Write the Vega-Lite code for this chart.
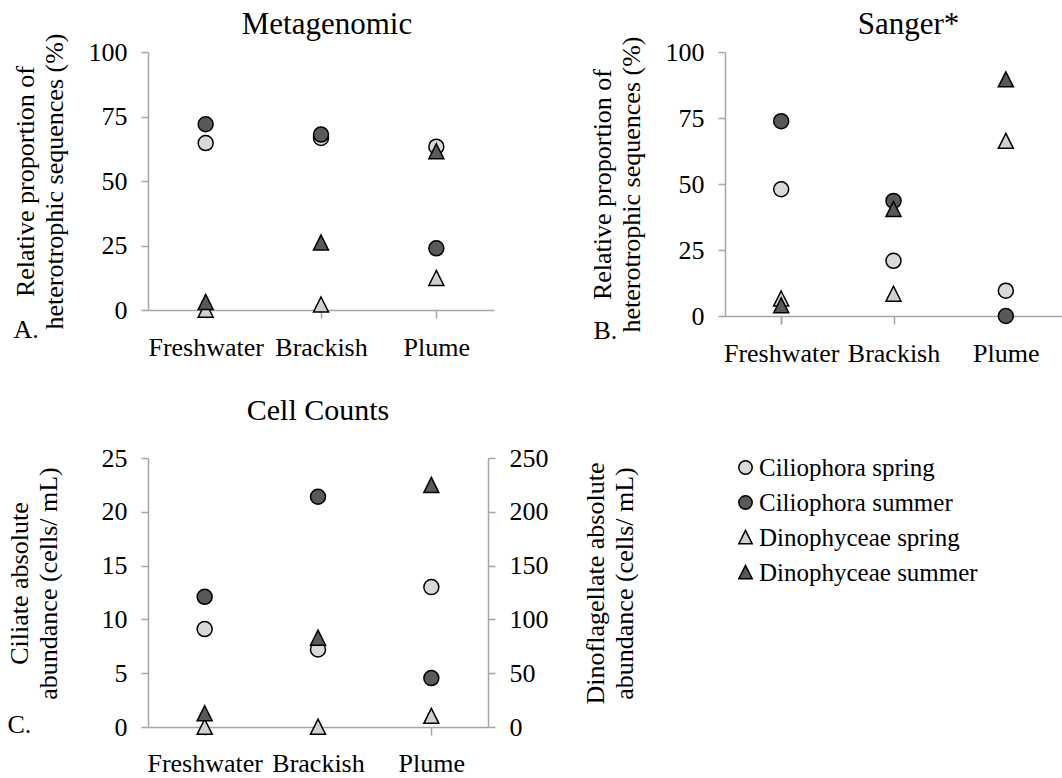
{
  "$schema": "https://vega.github.io/schema/vega-lite/v6.json",
  "background": "white",
  "padding": {"left": 6, "top": 9, "right": 0, "bottom": 0},
  "datasets": {
    "metagenomic": [
      {"site": "Freshwater", "group": "Ciliophora spring", "value": 64.7},
      {"site": "Freshwater", "group": "Ciliophora summer", "value": 72},
      {"site": "Freshwater", "group": "Dinophyceae spring", "value": 0},
      {"site": "Freshwater", "group": "Dinophyceae summer", "value": 3},
      {"site": "Brackish", "group": "Ciliophora spring", "value": 66.7},
      {"site": "Brackish", "group": "Ciliophora summer", "value": 68},
      {"site": "Brackish", "group": "Dinophyceae spring", "value": 2},
      {"site": "Brackish", "group": "Dinophyceae summer", "value": 26},
      {"site": "Plume", "group": "Ciliophora spring", "value": 63.3},
      {"site": "Plume", "group": "Ciliophora summer", "value": 23.9},
      {"site": "Plume", "group": "Dinophyceae spring", "value": 12.3},
      {"site": "Plume", "group": "Dinophyceae summer", "value": 61.4}
    ],
    "sanger": [
      {"site": "Freshwater", "group": "Ciliophora spring", "value": 48},
      {"site": "Freshwater", "group": "Ciliophora summer", "value": 73.8},
      {"site": "Freshwater", "group": "Dinophyceae spring", "value": 6.5},
      {"site": "Freshwater", "group": "Dinophyceae summer", "value": 3.9},
      {"site": "Brackish", "group": "Ciliophora spring", "value": 20.9},
      {"site": "Brackish", "group": "Ciliophora summer", "value": 43.6},
      {"site": "Brackish", "group": "Dinophyceae spring", "value": 8.3},
      {"site": "Brackish", "group": "Dinophyceae summer", "value": 40.4},
      {"site": "Plume", "group": "Ciliophora spring", "value": 9.6},
      {"site": "Plume", "group": "Ciliophora summer", "value": 0},
      {"site": "Plume", "group": "Dinophyceae spring", "value": 66.2},
      {"site": "Plume", "group": "Dinophyceae summer", "value": 89.5}
    ],
    "ciliates": [
      {"site": "Freshwater", "group": "Ciliophora spring", "value": 9.1},
      {"site": "Freshwater", "group": "Ciliophora summer", "value": 12.1},
      {"site": "Brackish", "group": "Ciliophora spring", "value": 7.2},
      {"site": "Brackish", "group": "Ciliophora summer", "value": 21.4},
      {"site": "Plume", "group": "Ciliophora spring", "value": 13},
      {"site": "Plume", "group": "Ciliophora summer", "value": 4.55}
    ],
    "dinoflagellates": [
      {"site": "Freshwater", "group": "Dinophyceae spring", "value": 0},
      {"site": "Freshwater", "group": "Dinophyceae summer", "value": 12.4},
      {"site": "Brackish", "group": "Dinophyceae spring", "value": 0},
      {"site": "Brackish", "group": "Dinophyceae summer", "value": 82.7},
      {"site": "Plume", "group": "Dinophyceae spring", "value": 10},
      {"site": "Plume", "group": "Dinophyceae summer", "value": 224.6}
    ]
  },
  "bounds": "flush",
  "columns": 2,
  "spacing": {"row": 142, "column": 231},
  "concat": [
    {
      "title": {"text": "Metagenomic", "offset": -8, "fontSize": 31, "dx": 6},
      "width": 346,
      "height": 258,
      "data": {"name": "metagenomic"},
      "mark": {"type": "point", "filled": true, "size": 225, "stroke": "black", "strokeWidth": 1.5, "opacity": 1},
      "encoding": {
        "x": {"field": "site", "type": "nominal", "sort": ["Freshwater", "Brackish", "Plume"],
              "scale": {"paddingInner": 0, "paddingOuter": 0},
              "axis": {"title": "A.", "titleX": -135, "titleY": 27}},
        "y": {"field": "value", "type": "quantitative", "scale": {"domain": [0, 100], "nice": false},
              "axis": {"values": [0, 25, 50, 75, 100], "title": ["Relative proportion of", "heterotrophic sequences (%)"], "titlePadding": 21}},
        "fill": {"field": "group", "type": "nominal",
                 "scale": {"domain": ["Ciliophora spring", "Ciliophora summer", "Dinophyceae spring", "Dinophyceae summer"],
                           "range": ["#d9d9d9", "#595959", "#d0d0d0", "#595959"]}, "legend": null},
        "shape": {"field": "group", "type": "nominal",
                  "scale": {"domain": ["Ciliophora spring", "Ciliophora summer", "Dinophyceae spring", "Dinophyceae summer"],
                            "range": ["circle", "circle", "M0,-1.05L1,0.95L-1,0.95Z", "M0,-1.05L1,0.95L-1,0.95Z"]}, "legend": null}
      }
    },
    {
      "title": {"text": "Sanger*", "offset": -5, "fontSize": 31, "dx": 15},
      "width": 337,
      "height": 264,
      "data": {"name": "sanger"},
      "mark": {"type": "point", "filled": true, "size": 225, "stroke": "black", "strokeWidth": 1.5, "opacity": 1},
      "encoding": {
        "x": {"field": "site", "type": "nominal", "sort": ["Freshwater", "Brackish", "Plume"],
              "scale": {"paddingInner": 0, "paddingOuter": 0},
              "axis": {"title": "B.", "titleX": -132, "titleY": 22}},
        "y": {"field": "value", "type": "quantitative", "scale": {"domain": [0, 100], "nice": false},
              "axis": {"values": [0, 25, 50, 75, 100], "title": ["Relative proportion of", "heterotrophic sequences (%)"], "titlePadding": 21}},
        "fill": {"field": "group", "type": "nominal",
                 "scale": {"domain": ["Ciliophora spring", "Ciliophora summer", "Dinophyceae spring", "Dinophyceae summer"],
                           "range": ["#d9d9d9", "#595959", "#d0d0d0", "#595959"]}, "legend": null},
        "shape": {"field": "group", "type": "nominal",
                  "scale": {"domain": ["Ciliophora spring", "Ciliophora summer", "Dinophyceae spring", "Dinophyceae summer"],
                            "range": ["circle", "circle", "M0,-1.05L1,0.95L-1,0.95Z", "M0,-1.05L1,0.95L-1,0.95Z"]}, "legend": null}
      }
    },
    {
      "title": {"text": "Cell Counts", "offset": 19},
      "width": 340,
      "height": 269,
      "layer": [
        {
          "data": {"name": "ciliates"},
          "mark": {"type": "point", "filled": true, "size": 225, "stroke": "black", "strokeWidth": 1.5, "opacity": 1},
          "encoding": {
            "x": {"field": "site", "type": "nominal", "sort": ["Freshwater", "Brackish", "Plume"],
                  "scale": {"domain": ["Freshwater", "Brackish", "Plume"], "paddingInner": 0, "paddingOuter": 0},
                  "axis": {"title": "C.", "titleX": -141, "titleY": 5, "labelPadding": 15}},
            "y": {"field": "value", "type": "quantitative", "scale": {"domain": [0, 25], "nice": false},
                  "axis": {"values": [0, 5, 10, 15, 20, 25], "title": ["Ciliate absolute", "abundance (cells/ mL)"], "titleY": 125, "titleAlign": "center", "titlePadding": 40}},
            "fill": {"field": "group", "type": "nominal",
                     "scale": {"domain": ["Ciliophora spring", "Ciliophora summer", "Dinophyceae spring", "Dinophyceae summer"],
                               "range": ["#d9d9d9", "#595959", "#d0d0d0", "#595959"]},
                     "legend": {"orient": "none", "legendX": 585, "legendY": -3}},
            "shape": {"field": "group", "type": "nominal",
                      "scale": {"domain": ["Ciliophora spring", "Ciliophora summer", "Dinophyceae spring", "Dinophyceae summer"],
                                "range": ["circle", "circle", "M0,-1.05L1,0.95L-1,0.95Z", "M0,-1.05L1,0.95L-1,0.95Z"]},
                      "legend": {"orient": "none", "legendX": 585, "legendY": -3}}
          }
        },
        {
          "data": {"name": "dinoflagellates"},
          "mark": {"type": "point", "filled": true, "size": 225, "stroke": "black", "strokeWidth": 1.5, "opacity": 1},
          "encoding": {
            "x": {"field": "site", "type": "nominal", "sort": ["Freshwater", "Brackish", "Plume"],
                  "scale": {"domain": ["Freshwater", "Brackish", "Plume"], "paddingInner": 0, "paddingOuter": 0},
                  "axis": {"title": "C.", "titleX": -141, "titleY": 5, "labelPadding": 15}},
            "y": {"field": "value", "type": "quantitative", "scale": {"domain": [0, 250], "nice": false},
                  "axis": {"orient": "right", "values": [0, 50, 100, 150, 200, 250], "title": ["Dinoflagellate absolute", "abundance (cells/ mL)"], "titleAngle": -90, "titleY": 125, "titleAlign": "center", "titlePadding": 31}},
            "fill": {"field": "group", "type": "nominal",
                     "scale": {"domain": ["Ciliophora spring", "Ciliophora summer", "Dinophyceae spring", "Dinophyceae summer"],
                               "range": ["#d9d9d9", "#595959", "#d0d0d0", "#595959"]},
                     "legend": {"orient": "none", "legendX": 585, "legendY": -3}},
            "shape": {"field": "group", "type": "nominal",
                      "scale": {"domain": ["Ciliophora spring", "Ciliophora summer", "Dinophyceae spring", "Dinophyceae summer"],
                                "range": ["circle", "circle", "M0,-1.05L1,0.95L-1,0.95Z", "M0,-1.05L1,0.95L-1,0.95Z"]},
                      "legend": {"orient": "none", "legendX": 585, "legendY": -3}}
          }
        }
      ],
      "resolve": {"scale": {"y": "independent"}}
    }
  ],
  "resolve": {"scale": {"fill": "independent", "shape": "independent"}},
  "config": {
    "view": {"stroke": null},
    "font": "Liberation Serif",
    "style": {"guide-label": {"font": "Liberation Serif"}, "guide-title": {"font": "Liberation Serif"}},
    "axis": {
      "labelFont": "Liberation Serif", "labelFontSize": 26, "labelColor": "black",
      "titleFont": "Liberation Serif", "titleFontSize": 26, "titleFontWeight": "normal", "titleColor": "black",
      "titleLineHeight": 29,
      "domainColor": "#a6a6a6", "domainWidth": 1.5, "tickColor": "#a6a6a6", "tickWidth": 1.5, "tickSize": 7,
      "grid": false
    },
    "axisX": {"labelAngle": 0, "labelPadding": 16, "tickBand": "extent", "tickSize": 8,
              "titleAngle": 0, "titleAlign": "left", "titleBaseline": "alphabetic", "titleAnchor": "start"},
    "axisY": {"labelPadding": 14, "titlePadding": 21},
    "title": {"font": "Liberation Serif", "fontSize": 30, "fontWeight": "normal", "color": "black", "offset": 6},
    "legend": {
      "title": null, "padding": 0, "labelFont": "Liberation Serif", "labelFontSize": 25, "labelColor": "black",
      "labelLimit": 0, "labelOffset": 1, "rowPadding": 9, "symbolSize": 180,
      "symbolStrokeColor": "black", "symbolStrokeWidth": 1.5,
      "symbolFillColor": "#d9d9d9"
    }
  }
}
